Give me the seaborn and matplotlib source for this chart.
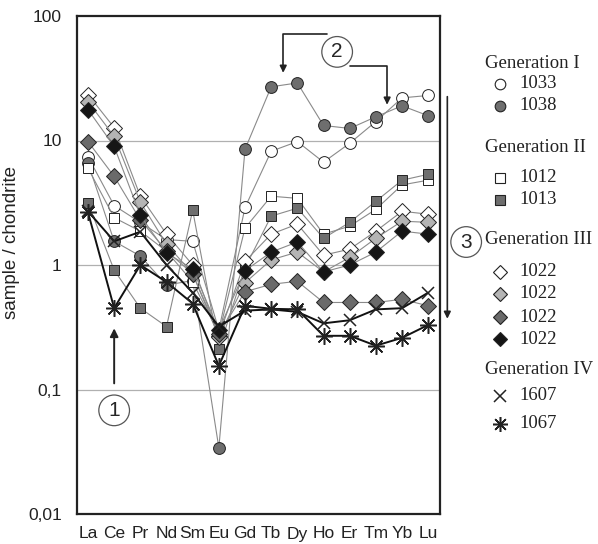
import numpy as np
import pandas as pd
import matplotlib
matplotlib.use('Agg')
import matplotlib.pyplot as plt
from matplotlib.lines import Line2D
import seaborn as sns

# REE normalised to chondrite
elements = ['La', 'Ce', 'Pr', 'Nd', 'Sm', 'Eu', 'Gd', 'Tb', 'Dy', 'Ho', 'Er', 'Tm', 'Yb', 'Lu']

s1033 = [7.4, 3.0, 2.2, 1.6, 1.55, 0.30, 2.9, 8.2, 9.8, 6.7, 9.5, 14.2, 22, 23]
s1038 = [6.6, 1.55, 1.18, 0.69, 0.75, 0.034, 8.5, 27, 29, 13.2, 12.5, 15.5, 19, 15.8]
s1012 = [6.0, 2.4, 1.87, 1.29, 0.73, 0.28, 1.98, 3.57, 3.43, 1.77, 2.05, 2.8, 4.4, 4.8]
s1013 = [3.15, 0.91, 0.45, 0.32, 2.75, 0.21, 0.95, 2.47, 2.86, 1.64, 2.2, 3.25, 4.8, 5.35]
s1022a = [23.4, 12.7, 3.57, 1.77, 1.0, 0.27, 1.07, 1.77, 2.13, 1.2, 1.34, 1.87, 2.7, 2.56]
s1022b = [20.5, 10.8, 3.2, 1.47, 0.85, 0.265, 0.72, 1.1, 1.27, 0.88, 1.15, 1.64, 2.25, 2.2]
s1022c = [9.8, 5.15, 2.3, 1.3, 0.85, 0.28, 0.61, 0.70, 0.74, 0.5, 0.5, 0.5, 0.53, 0.47]
s1022d = [17.7, 8.95, 2.5, 1.25, 0.93, 0.30, 0.9, 1.27, 1.53, 0.88, 1.0, 1.27, 1.87, 1.77]
s1607 = [2.7, 1.55, 1.85, 1.0, 0.6, 0.32, 0.43, 0.44, 0.42, 0.34, 0.36, 0.44, 0.45, 0.6]
s1067 = [2.65, 0.45, 1.0, 0.73, 0.49, 0.155, 0.47, 0.445, 0.44, 0.27, 0.27, 0.225, 0.26, 0.33]

series = [s1033, s1038, s1012, s1013, s1022a, s1022b, s1022c, s1022d, s1607, s1067]
labels = ['1033', '1038', '1012', '1013', '1022', '1022', '1022', '1022', '1607', '1067']
generations = ['Generation I', 'Generation II', 'Generation III', 'Generation IV']

# styles per series (marker, face, line colour, line width, size)
star = (8, 2, 0)
styles = [
    dict(marker='o', mfc='white', color='#8a8a8a', lw=0.8, ms=8.5),
    dict(marker='o', mfc='#6e6e6e', color='#8a8a8a', lw=0.8, ms=8.5),
    dict(marker='s', mfc='white', color='#8a8a8a', lw=0.8, ms=7.5),
    dict(marker='s', mfc='#6e6e6e', color='#8a8a8a', lw=0.8, ms=7.5),
    dict(marker='D', mfc='white', color='#8a8a8a', lw=0.8, ms=8.3),
    dict(marker='D', mfc='#b4b4b4', color='#8a8a8a', lw=0.8, ms=8.3),
    dict(marker='D', mfc='#6a6a6a', color='#8a8a8a', lw=0.8, ms=8.3),
    dict(marker='D', mfc='#151515', color='#8a8a8a', lw=0.8, ms=8.3),
    dict(marker='x', mfc='black', color='#111111', lw=1.4, ms=9),
    dict(marker=star, mfc='black', color='#111111', lw=1.4, ms=12),
]

sns.set_style('white')
plt.rcParams['font.family'] = ['Liberation Sans', 'DejaVu Sans']

W, H = 598, 544
fig = plt.figure(figsize=(W / 100, H / 100), dpi=100)
ax = fig.add_axes([77 / W, (H - 514) / H, (440 - 77) / W, (514 - 16) / H])

idx = np.arange(len(elements))
for vals, lab, st in zip(series, labels, styles):
    df = pd.DataFrame({'x': idx, 'y': vals})
    sns.lineplot(data=df, x='x', y='y', ax=ax, color=st['color'], linewidth=st['lw'],
                 marker=st['marker'], markersize=st['ms'], markerfacecolor=st['mfc'],
                 markeredgecolor='#222222', markeredgewidth=0.7 if st['marker'] not in ('x', star) else 1.1,
                 legend=False, zorder=3)

ax.set_yscale('log')
ax.set_ylim(0.01, 100)
ax.set_xlim(-0.42, 13.45)
ax.set_yticks([0.01, 0.1, 1, 10, 100])
ax.set_yticklabels(['0,01', '0,1', '1', '10', '100'])
ax.yaxis.set_minor_locator(matplotlib.ticker.NullLocator())
ax.set_xticks(idx)
ax.set_xticklabels(elements)
ax.tick_params(axis='y', length=0, pad=11, labelsize=12.5, labelcolor='#222222')
ax.tick_params(axis='x', length=6, width=1, color='#aaaaaa', pad=3, labelsize=12.5, labelcolor='#222222')
for v in [0.1, 1, 10]:
    ax.axhline(v, color='#b0b0b0', lw=0.9, zorder=1)
for sp in ax.spines.values():
    sp.set_color('#222222')
    sp.set_linewidth(1.6)
ax.set_xlabel('')
ax.set_ylabel('sample / chondrite', fontsize=13.5, color='#222222')
ax.yaxis.set_label_coords(-0.157, 0.546)

# annotations
circ = dict(boxstyle='circle,pad=0.28', fc='white', ec='#555555', lw=0.9)
arr = dict(arrowstyle='-|>', color='#222222', lw=1.4, mutation_scale=12, shrinkA=0, shrinkB=0)

ax.annotate('', xy=(1, 0.31), xytext=(1, 0.112), arrowprops=arr)
ax.text(1, 0.068, '1', fontsize=15, ha='center', va='center', bbox=circ, zorder=5)

arr2 = dict(arr, lw=1.2, mutation_scale=10, connectionstyle='angle,angleA=180,angleB=90,rad=0')
ax.annotate('', xy=(7.46, 35), xytext=(9.14, 71.8), arrowprops=arr2)
arr3 = dict(arr, lw=1.2, mutation_scale=10, connectionstyle='angle,angleA=0,angleB=90,rad=0')
ax.annotate('', xy=(11.43, 19.4), xytext=(10.02, 39.8), arrowprops=arr3)
ax.text(9.52, 51.5, '2', fontsize=15, ha='center', va='center', bbox=circ, zorder=5)

ax.annotate('', xy=(13.73, 0.37), xytext=(13.73, 22.5), arrowprops=dict(arr, lw=1.2, mutation_scale=10),
            annotation_clip=False)
ax.text(14.45, 1.53, '3', fontsize=15, ha='center', va='center', bbox=circ, clip_on=False, zorder=5)

# legend drawn by hand on the right
def fp(x, y):
    return x / W, 1 - y / H

serif = ['Liberation Serif', 'DejaVu Serif']
head_y = [63, 147, 239, 369]
item_y = [84, 106, 178, 200, 272, 294, 317, 339, 396, 424]
for g, y in zip(generations, head_y):
    fig.text(*fp(485, y), g, fontsize=13.5, family=serif, va='center', ha='left', color='#222222')
for lab, st, y in zip(labels, styles, item_y):
    fx, fy = fp(500, y)
    ms = st['ms'] * 0.9
    fig.add_artist(Line2D([fx], [fy], transform=fig.transFigure, marker=st['marker'], ms=ms,
                          mfc=st['mfc'], mec='#222222', mew=0.8 if st['marker'] not in ('x', star) else 1.1,
                          ls='none'))
    fig.text(*fp(519, y), lab, fontsize=13.5, family=serif, va='center', ha='left', color='#222222')

fig.savefig('out.png', dpi=100)
